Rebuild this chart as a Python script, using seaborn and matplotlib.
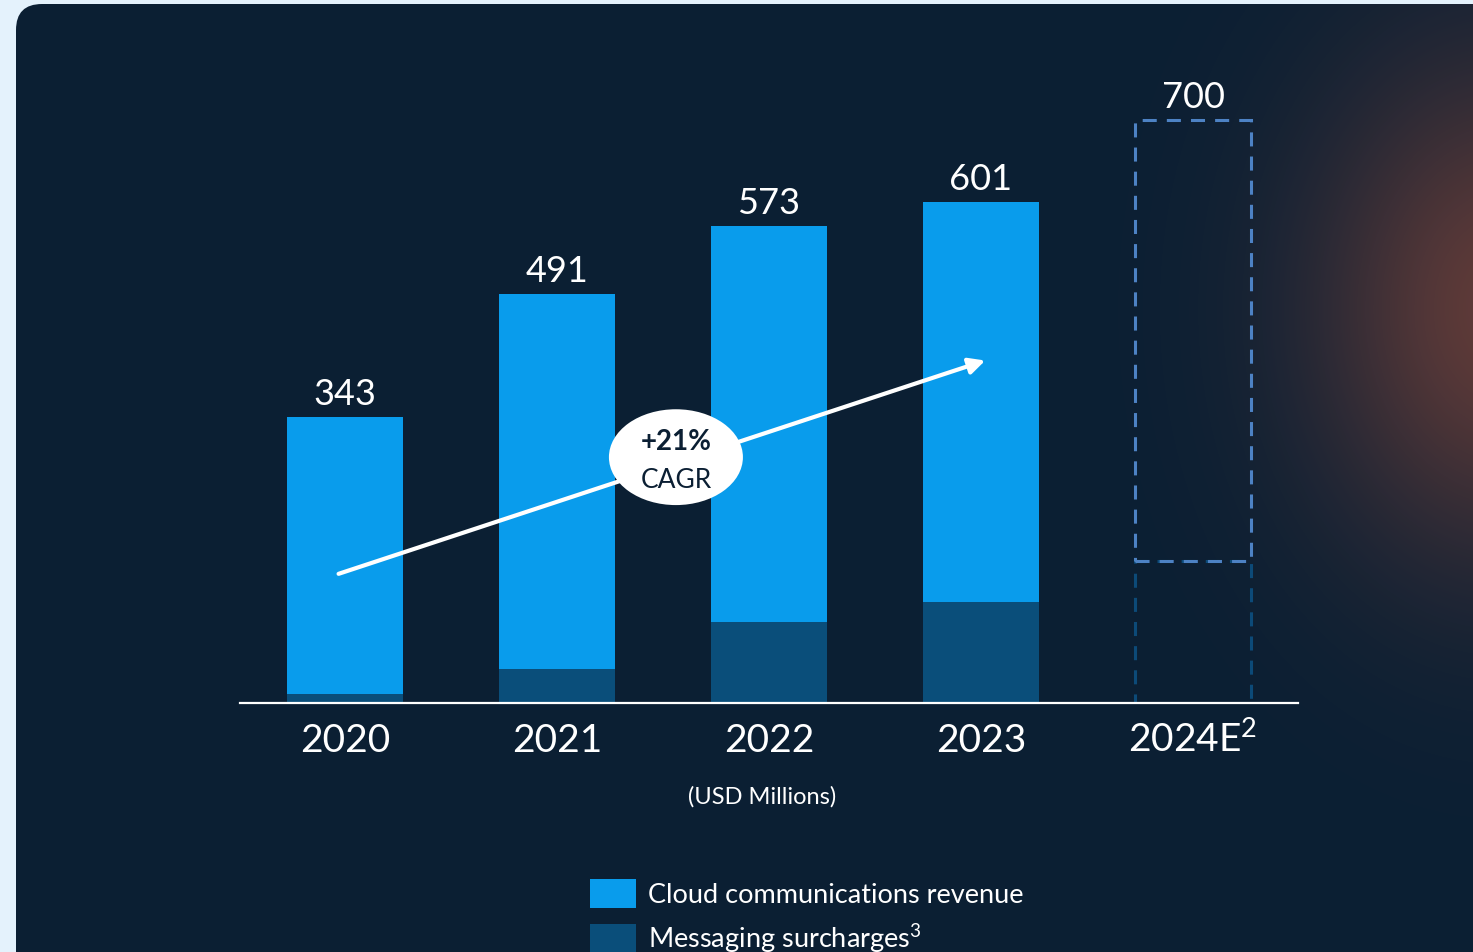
import numpy as np
import pandas as pd
import matplotlib
matplotlib.use("Agg")
import matplotlib.pyplot as plt
from matplotlib.patches import FancyBboxPatch, Ellipse, Patch
from matplotlib.transforms import ScaledTranslation
import seaborn as sns

# ---- data (USD millions) ----
years = ["2020", "2021", "2022", "2023", "2024E"]
tick_labels = ["2020", "2021", "2022", "2023", "2024E$^{2}$"]
totals = [343, 491, 573, 601, 700]
surcharges = [11, 41, 97, 121, 171]
is_estimate = [False, False, False, False, True]
cagr_text = "+21%"
legend_labels = ["Cloud communications revenue", "Messaging surcharges$^{3}$"]

# ---- colours ----
PAGE = "#e4f2fc"
PANEL = "#0b1f33"
BRIGHT = "#099cec"
DEEP = "#0a4e7a"
DASH_LIGHT = "#4d82c4"
DASH_DARK = "#0c4a78"
WHITE = "#ffffff"

sns.set_style("white")
plt.rcParams["font.family"] = ["Lato", "DejaVu Sans"]
plt.rcParams["mathtext.fontset"] = "custom"
plt.rcParams["mathtext.rm"] = "Lato"
plt.rcParams["mathtext.it"] = "Lato:italic"
plt.rcParams["mathtext.bf"] = "Lato:bold"
plt.rcParams["mathtext.default"] = "rm"

W, H = 1473, 953
fig = plt.figure(figsize=(W / 100, H / 100), dpi=100, facecolor=PAGE)

# ---- background panel with warm glow on the right ----
bg = fig.add_axes([0, 0, 1, 1], zorder=0)
bg.set_xlim(0, W)
bg.set_ylim(H, 0)
bg.axis("off")
panel = FancyBboxPatch((16, 5), W + 40, H + 60,
                       boxstyle="round,pad=0,rounding_size=26",
                       facecolor=PANEL, edgecolor="none")
bg.add_patch(panel)
yy, xx = np.mgrid[0:H, 0:W]
alpha = 0.75 * np.exp(-(((xx - 1505) / 190.0) ** 2 + ((yy - 310) / 250.0) ** 2))
glow = np.zeros((H, W, 4))
glow[..., 0] = 125 / 255
glow[..., 1] = 68 / 255
glow[..., 2] = 58 / 255
glow[..., 3] = alpha
im = bg.imshow(glow, extent=(0, W, H, 0), interpolation="bilinear", zorder=1)
im.set_clip_path(panel)

# ---- main chart ----
ax = fig.add_axes([240 / W, (H - 704) / H, 1058 / W, 650 / H], zorder=2)
ax.set_facecolor("none")

df = pd.DataFrame({"year": years, "total": totals, "surcharge": surcharges,
                   "estimate": is_estimate})
df["cloud"] = df["total"] - df["surcharge"]
actual = df[~df["estimate"]]
est = df[df["estimate"]]

BAR_W = 0.55
sns.barplot(data=actual, x="year", y="total", order=years, color=BRIGHT,
            width=BAR_W, saturation=1, linewidth=0, ax=ax)
sns.barplot(data=actual, x="year", y="surcharge", order=years, color=DEEP,
            width=BAR_W, saturation=1, linewidth=0, ax=ax)

# estimate: dashed outline, split into surcharge and cloud parts
dash = (0, (4.6, 3.3))
sns.barplot(data=est, x="year", y="surcharge", order=years, color=DASH_DARK,
            width=BAR_W, saturation=1, fill=False, linewidth=2.2,
            linestyle=dash, ax=ax)
sns.barplot(data=est, x="year", y="cloud", order=years, color=DASH_LIGHT,
            width=BAR_W, saturation=1, fill=False, linewidth=2.2,
            linestyle=dash, bottom=est["surcharge"].values, ax=ax)

ax.set_xlim(-0.495, 4.495)
ax.set_ylim(0, 780)
ax.set_xlabel("")
ax.set_ylabel("")
ax.set_yticks([])
ax.set_xticks(range(len(years)))
ax.set_xticklabels(tick_labels)
ax.tick_params(axis="x", length=0, pad=14, labelsize=28, labelcolor=WHITE)
# the superscripted label sits lower because of its taller box; lift it
sup_label = ax.get_xticklabels()[-1]
sup_label.set_transform(sup_label.get_transform()
                        + ScaledTranslation(0, 2.6 / 72, fig.dpi_scale_trans))
for side in ["left", "right", "top"]:
    ax.spines[side].set_visible(False)
ax.spines["bottom"].set_color(WHITE)
ax.spines["bottom"].set_linewidth(1.6)
ax.spines["bottom"].set_zorder(5)

# value labels
for i, v in enumerate(totals):
    ax.annotate(f"{v}", xy=(i, v), xytext=(0, 5), textcoords="offset points",
                ha="center", va="bottom", fontsize=26, color=WHITE)

# growth arrow and CAGR badge
ax.annotate("", xy=(3.02, 411), xytext=(-0.03, 155),
            arrowprops=dict(arrowstyle="-|>", color=WHITE, lw=3,
                            mutation_scale=24, shrinkA=0, shrinkB=0),
            zorder=6)
ax.add_patch(Ellipse((1.561, 295), 0.632, 115, facecolor=WHITE,
                     edgecolor="none", zorder=7))
ax.text(1.561, 314, cagr_text, ha="center", va="center", fontsize=20,
        fontweight="bold", color=PANEL, zorder=8)
ax.text(1.561, 268, "CAGR", ha="center", va="center", fontsize=19,
        color=PANEL, zorder=8)

fig.text(762 / W, 1 - 797 / H, "(USD Millions)", ha="center", va="center",
         fontsize=17, color=WHITE)

handles = [Patch(facecolor=BRIGHT, edgecolor="none"),
           Patch(facecolor=DEEP, edgecolor="none")]
fig.legend(handles=handles, labels=legend_labels, loc="upper left",
           bbox_to_anchor=(590 / W, 1 - 880 / H), frameon=False,
           borderpad=0, borderaxespad=0, handlelength=1.7, handleheight=1.25,
           handletextpad=0.45, labelspacing=0.5, fontsize=19.5,
           labelcolor=WHITE)

fig.savefig("out.png", dpi=100, facecolor=PAGE)
